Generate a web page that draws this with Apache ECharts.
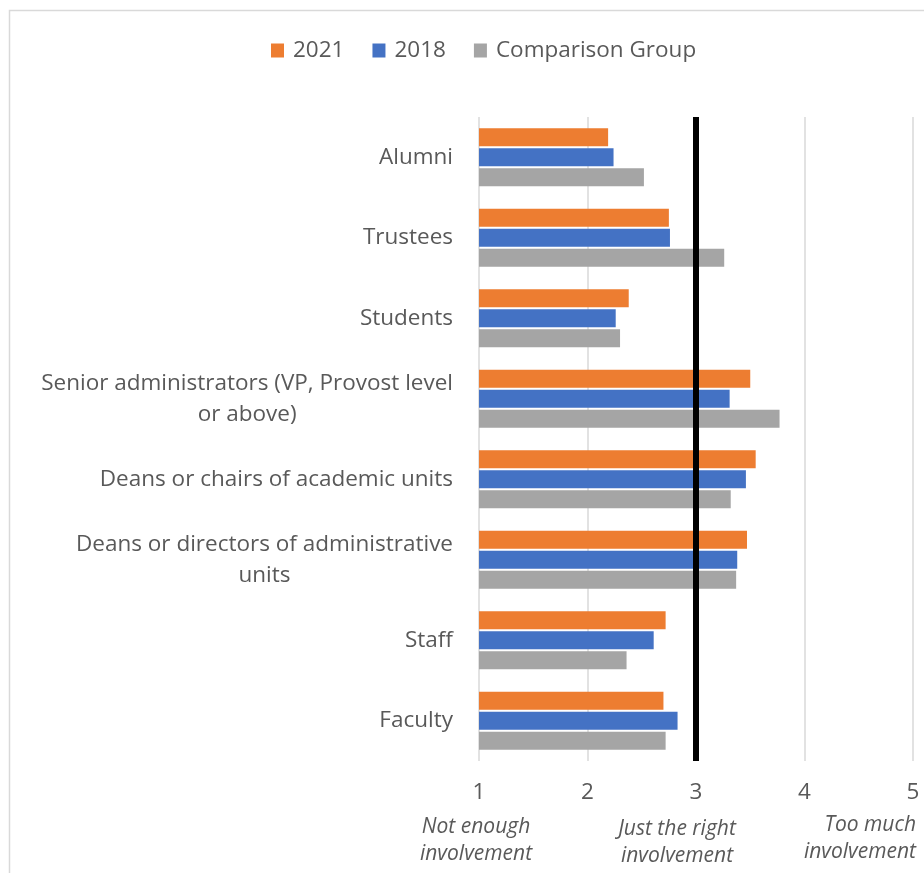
<!DOCTYPE html>
<html>
<head>
<meta charset="utf-8">
<script src="https://cdn.jsdelivr.net/npm/echarts@6/dist/echarts.min.js"></script>
<style>
  html, body { margin: 0; padding: 0; background: #fff; }
  #chart { width: 924px; height: 873px; }
</style>
</head>
<body>
<div id="chart"></div>
<script>
// categories, top to bottom
var categories = [
  'Alumni',
  'Trustees',
  'Students',
  'Senior administrators (VP, Provost level\nor above)',
  'Deans or chairs of academic units',
  'Deans or directors of administrative\nunits',
  'Staff',
  'Faculty'
];
var values2021 = [2.19, 2.75, 2.38, 3.50, 3.55, 3.47, 2.72, 2.70];
var values2018 = [2.24, 2.76, 2.26, 3.31, 3.46, 3.38, 2.61, 2.83];
var valuesComparison = [2.52, 3.26, 2.30, 3.77, 3.32, 3.37, 2.36, 2.72];
var scaleTicks = [1, 2, 3, 4, 5];
var scaleNotes = ['Not enough\ninvolvement', 'Just the right\ninvolvement', 'Too much\ninvolvement'];
var neutralValue = 3;

var font = '"Segoe UI", "Open Sans", sans-serif';
var textColor = '#595959';
var labelSize = 22.5;

var chart = echarts.init(document.getElementById('chart'));

function barSeries(name, data, color) {
  return {
    name: name,
    type: 'bar',
    data: data,
    barWidth: 18,
    barGap: '11%',
    itemStyle: { color: color },
    silent: true
  };
}

var series = [
  barSeries('2021', values2021, '#ED7D31'),
  barSeries('2018', values2018, '#4472C4'),
  barSeries('Comparison Group', valuesComparison, '#A5A5A5')
];
// black reference line at "just the right" point
series[0].markLine = {
  silent: true,
  symbol: ['none', 'none'],
  label: { show: false },
  lineStyle: { color: '#000', width: 6, type: 'solid' },
  data: [{ xAxis: neutralValue }]
};

function noteText(text, x, y, align) {
  return {
    type: 'text', x: x, y: y, silent: true,
    style: {
      text: text, fill: textColor, font: 'italic 21px ' + font,
      lineHeight: 27, align: align, verticalAlign: 'top'
    }
  };
}

chart.setOption({
  animation: false,
  textStyle: { fontFamily: font },
  legend: {
    top: 34,
    left: 266,
    itemWidth: 13,
    itemHeight: 14,
    itemGap: 28,
    icon: 'rect',
    textStyle: { fontSize: labelSize, color: textColor, fontFamily: font, padding: [0, 0, 0, 4] },
    data: ['2021', '2018', 'Comparison Group']
  },
  grid: { left: 479, right: 11, top: 117, bottom: 112, containLabel: false },
  xAxis: {
    type: 'value',
    min: scaleTicks[0],
    max: scaleTicks[scaleTicks.length - 1],
    interval: 1,
    axisLine: { show: false },
    axisTick: { show: false },
    splitLine: { show: true, lineStyle: { color: '#d9d9d9', width: 1.5 } },
    axisLabel: { fontSize: labelSize, color: textColor, margin: 20, fontFamily: font }
  },
  yAxis: {
    type: 'category',
    inverse: true,
    data: categories,
    axisLine: { show: false },
    axisTick: { show: false },
    axisLabel: {
      margin: 26,
      color: textColor,
      fontSize: labelSize,
      fontFamily: font,
      lineHeight: 31,
      formatter: function (v) {
        return v.split('\n').map(function (l) { return '{c|' + l + '}'; }).join('\n');
      },
      rich: {
        c: { align: 'center', fontSize: labelSize, color: textColor, fontFamily: font, lineHeight: 31 }
      }
    }
  },
  graphic: [
    {
      type: 'rect', silent: true, z: -1,
      shape: { x: 9.5, y: 10.5, width: 1000, height: 1000 },
      style: { fill: 'none', stroke: '#d9d9d9', lineWidth: 1.5 }
    },
    noteText(scaleNotes[0], 476, 814, 'center'),
    noteText(scaleNotes[1], 677, 816, 'center'),
    noteText(scaleNotes[2], 916, 812, 'right')
  ],
  series: series
});
window.addEventListener('resize', function () { chart.resize(); });
</script>
</body>
</html>
